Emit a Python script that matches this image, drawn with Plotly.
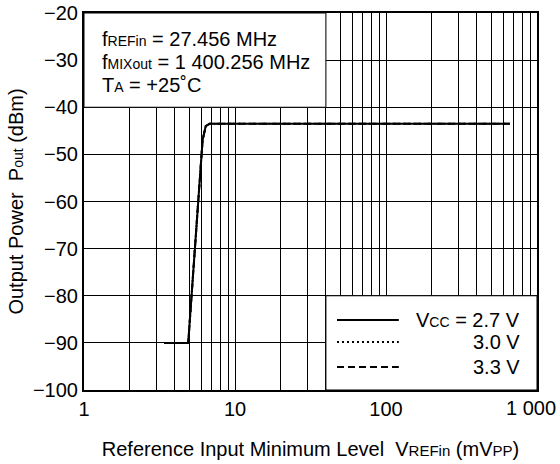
import plotly.graph_objects as go

# Data
vref_mvpp = [3.4, 4.9, 6.1, 6.4, 6.8, 660]
pout_27 = [-90, -90, -47, -44, -43.5, -43.5]
pout_30 = [-90, -90, -47, -44, -43.5, -43.5]
pout_33 = [-90, -90, -47, -44, -43.5, -43.5]

SUB = "<span style='font-size:14px'>%s</span>"
SUBX = "<span style='font-size:15px'>%s</span>"
series_names = ["V" + SUB % "CC" + " = 2.7 V", "3.0 V", "3.3 V"]
series_dash = ["solid", "2px,3px", "7px,4px"]

x_tickvals = [1, 10, 100, 1000]
x_ticktext = ["1", "10", "100", ""]
x_last_label = "1 000"
y_tickvals = [-100, -90, -80, -70, -60, -50, -40, -30, -20]

FONT = "Liberation Sans, Arial, sans-serif"
FS = 20

fig = go.Figure()
for yv, nm, ds in zip([pout_27, pout_30, pout_33], series_names, series_dash):
    fig.add_trace(go.Scatter(x=vref_mvpp, y=yv, mode="lines", name=nm,
                             line=dict(color="black", width=2, dash=ds),
                             showlegend=False))

minor_vals = [m * d for d in (1, 10, 100) for m in range(2, 10)]

fig.update_layout(
    width=560, height=464,
    margin=dict(l=84, r=23, t=13, b=74),
    paper_bgcolor="white", plot_bgcolor="white",
    font=dict(family=FONT, size=FS, color="black"),
    xaxis=dict(type="log", range=[0, 3], tickmode="array",
               tickvals=x_tickvals, ticktext=x_ticktext, automargin=False,
               ticklabeloverflow="allow",
               showgrid=True, gridcolor="black", gridwidth=1,
               minor=dict(tickmode="array", tickvals=minor_vals, showgrid=True,
                          gridcolor="black", gridwidth=1, ticks=""),
               showline=True, linecolor="black", linewidth=2, mirror=True,
               ticks="", zeroline=False,
               title=dict(text="Reference Input Minimum Level  V" + SUBX % "REFin" + " (mV" + SUBX % "PP" + ")",
                          standoff=23, font=dict(size=FS))),
    yaxis=dict(range=[-100, -20], tickmode="array", tickvals=y_tickvals,
               automargin=False, ticklabeloverflow="allow",
               showgrid=True, gridcolor="black", gridwidth=1,
               showline=True, linecolor="black", linewidth=2, mirror=True,
               ticks="", zeroline=False,
               title=dict(text="Output Power  P" + SUB % "out" + " (dBm)",
                          standoff=4, font=dict(size=FS))),
)

# Last x tick label placed so it stays inside the page
fig.add_annotation(xref="x", yref="paper", x=3, y=0, text=x_last_label,
                   showarrow=False, xanchor="right", yanchor="middle",
                   xshift=21, yshift=-18, font=dict(size=FS))

# Annotation box (masks grid)
fig.add_shape(type="rect", xref="x", yref="y", x0=1, x1=40, y0=-40, y1=-20,
              fillcolor="white", line=dict(color="black", width=1), layer="between")
# Legend box
fig.add_shape(type="rect", xref="x", yref="y", x0=40, x1=1000, y0=-100, y1=-80,
              fillcolor="white", line=dict(color="black", width=1), layer="between")

ann_lines = [
    "f" + SUB % "REFin" + " = 27.456 MHz",
    "f" + SUB % "MIXout" + " = 1 400.256 MHz",
    "T" + SUB % "A" + " = +25˚C",
]
ann_y = [0.931, 0.870, 0.809]
for t, yy in zip(ann_lines, ann_y):
    fig.add_annotation(xref="paper", yref="paper", x=0.035, y=yy, text=t,
                       showarrow=False, xanchor="left", yanchor="middle",
                       font=dict(size=FS))

# Manual legend
leg_y = [0.186, 0.127, 0.061]
for nm, ds, yy in zip(series_names, series_dash, leg_y):
    fig.add_shape(type="line", xref="paper", yref="paper", x0=0.5585, x1=0.695,
                  y0=yy, y1=yy, line=dict(color="black", width=2, dash=ds), layer="above")
    fig.add_annotation(xref="paper", yref="paper", x=0.967, y=yy, text=nm,
                       showarrow=False, xanchor="right", yanchor="middle",
                       font=dict(size=FS))

fig.write_html("out.html")
